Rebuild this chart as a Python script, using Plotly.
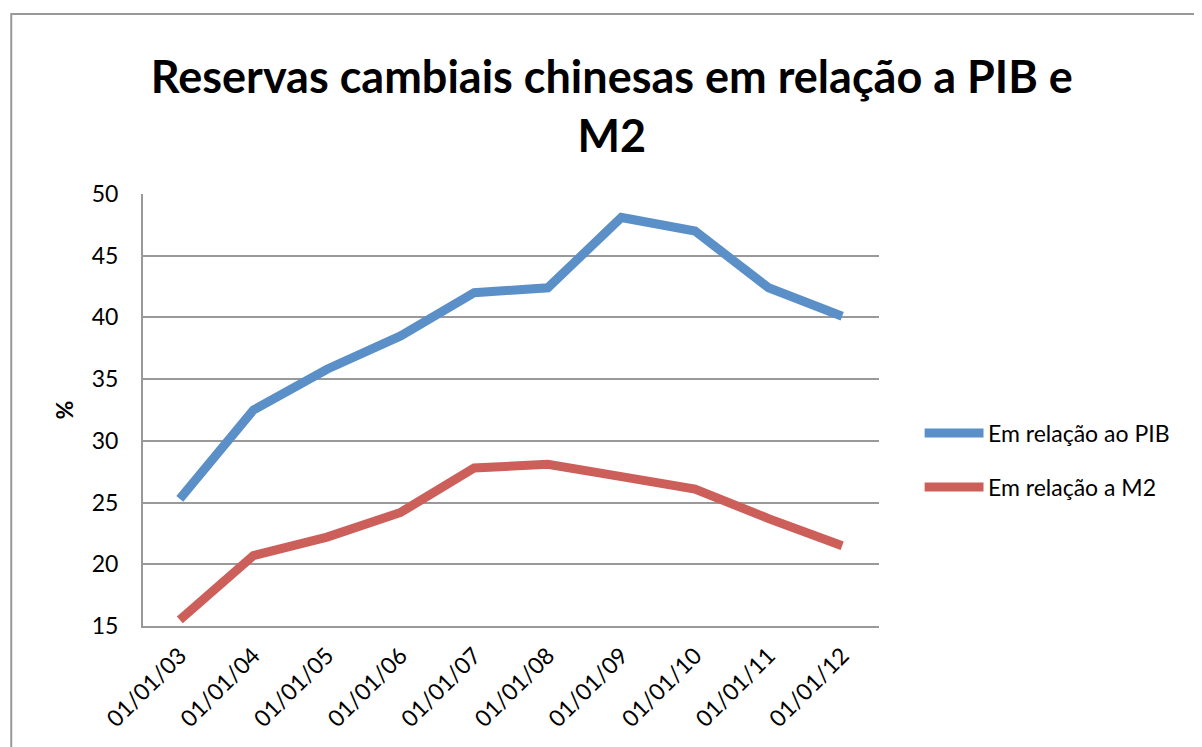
import plotly.graph_objects as go

categories = ["01/01/03", "01/01/04", "01/01/05", "01/01/06", "01/01/07",
              "01/01/08", "01/01/09", "01/01/10", "01/01/11", "01/01/12"]
pib = [25.3, 32.5, 35.8, 38.5, 42.0, 42.4, 48.1, 47.0, 42.4, 40.1]
m2 = [15.5, 20.7, 22.2, 24.2, 27.8, 28.1, 27.1, 26.1, 23.7, 21.5]
y_ticks = [15, 20, 25, 30, 35, 40, 45, 50]
series_names = ["Em relação ao PIB", "Em relação a M2"]
series_colors = ["#5B8FC7", "#CD5F5A"]

FONT = "Lato, 'Open Sans', sans-serif"

fig = go.Figure()
for name, vals, col in zip(series_names, [pib, m2], series_colors):
    fig.add_trace(go.Scatter(x=categories, y=vals, mode="lines", name=name,
                             line=dict(color=col, width=9), showlegend=False))

W, H = 1194, 740
L, T, PW, PH = 135, 186, 736, 432

fig.update_layout(
    width=W, height=H,
    margin=dict(l=L, r=W - L - PW, t=T, b=H - T - PH),
    paper_bgcolor="white", plot_bgcolor="white",
    font=dict(family=FONT, color="black"),
    title=dict(text="<b>Reservas cambiais chinesas em relação a PIB e<br>M2</b>",
               x=0.637, xref="paper", xanchor="center", y=0.885, yanchor="top",
               yref="container",
               font=dict(size=45, family=FONT)),
)
fig.update_xaxes(type="category", showgrid=False, showline=True, linecolor="#999999",
                 linewidth=2, tickangle=-45, tickfont=dict(size=23), ticks="",
                 ticklabelstandoff=5,
                 range=[-0.5, len(categories) - 0.5])
fig.update_yaxes(range=[15, 50], tickvals=y_ticks, showgrid=True, gridcolor="#999999",
                 gridwidth=1.5, showline=True, linecolor="#999999", linewidth=2,
                 tickfont=dict(size=23), ticks="", zeroline=False, ticklabelstandoff=18,
                 title=dict(text="<b>%</b>", font=dict(size=23), standoff=12))

# outer chart frame
fig.add_shape(type="rect", xref="paper", yref="paper",
              x0=-0.179, x1=1.6, y0=-0.6, y1=1.4167,
              line=dict(color="#999999", width=2), fillcolor="rgba(0,0,0,0)", layer="below")

# legend (drawn manually to match the long, thick line samples)
leg_y = [0.4468, 0.3218]
for name, col, yy in zip(series_names, series_colors, leg_y):
    fig.add_shape(type="line", xref="paper", yref="paper",
                  x0=1.062, x1=1.142, y0=yy, y1=yy,
                  line=dict(color=col, width=9))
    fig.add_annotation(text=name, xref="paper", yref="paper", x=1.1454, y=yy,
                       xanchor="left", yanchor="middle", showarrow=False,
                       font=dict(size=23, family=FONT, color="black"))

fig.write_html("out.html")
